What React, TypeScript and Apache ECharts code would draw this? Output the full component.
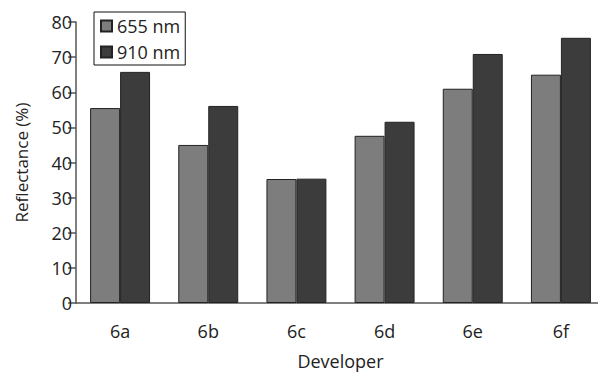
import React, { useEffect, useRef } from "react";
import * as echarts from "echarts";

const categories = ["6a", "6b", "6c", "6d", "6e", "6f"];
const series655 = [55.5, 45, 35.3, 47.6, 61, 65];
const series910 = [65.8, 56.1, 35.4, 51.6, 70.9, 75.5];
const seriesNames = ["655 nm", "910 nm"];

const FONT = "'Open Sans', 'DejaVu Sans', sans-serif";

export default function App() {
  const ref = useRef<HTMLDivElement>(null);
  useEffect(() => {
    if (!ref.current) return;
    const chart = echarts.init(ref.current, undefined, { renderer: "svg" });
    chart.setOption({
      animation: false,
      backgroundColor: "#ffffff",
      textStyle: { fontFamily: FONT },
      grid: {
        left: 76,
        top: 22,
        width: 529,
        height: 281,
        containLabel: false,
        outerBoundsMode: "none",
      },
      legend: {
        orient: "vertical",
        left: 94,
        top: 12,
        padding: [5, 5, 4, 6],
        itemGap: 8,
        itemWidth: 11,
        itemHeight: 11,
        itemTextGap: 6,
        borderColor: "#111",
        borderWidth: 1,
        backgroundColor: "#fff",
        icon: "rect",
        textStyle: { fontFamily: FONT, fontSize: 18, color: "#222" },
        data: seriesNames,
      },
      xAxis: {
        type: "category",
        data: categories,
        name: "Developer",
        nameLocation: "middle",
        nameGap: 50,
        nameTextStyle: { fontFamily: FONT, fontSize: 18, lineHeight: 16, color: "#222" },
        axisLine: { lineStyle: { color: "#555", width: 1.5 } },
        axisTick: { show: false },
        axisLabel: { fontFamily: FONT, fontSize: 18, color: "#222", margin: 19 },
      },
      yAxis: {
        type: "value",
        min: 0,
        max: 80,
        interval: 10,
        name: "Reflectance (%)",
        nameLocation: "middle",
        nameGap: 46,
        nameTextStyle: { fontFamily: FONT, fontSize: 17, color: "#222" },
        axisLine: { show: true, lineStyle: { color: "#555", width: 1.5 } },
        axisTick: { show: true, length: 8, lineStyle: { color: "#555", width: 1.5 } },
        axisLabel: { fontFamily: FONT, fontSize: 18, color: "#222", margin: 4 },
        splitLine: { show: false },
      },
      series: [
        {
          name: seriesNames[0],
          type: "bar",
          data: series655,
          barGap: "0%",
          barCategoryGap: "32%",
          itemStyle: { color: "#7d7d7d", borderColor: "#222", borderWidth: 1 },
        },
        {
          name: seriesNames[1],
          type: "bar",
          data: series910,
          barGap: "0%",
          barCategoryGap: "32%",
          itemStyle: { color: "#3c3c3c", borderColor: "#222", borderWidth: 1 },
        },
      ],
    });
    return () => chart.dispose();
  }, []);
  return (
    <div
      ref={ref}
      style={{ position: "absolute", left: 0, top: 0, width: 598, height: 372 }}
    />
  );
}
